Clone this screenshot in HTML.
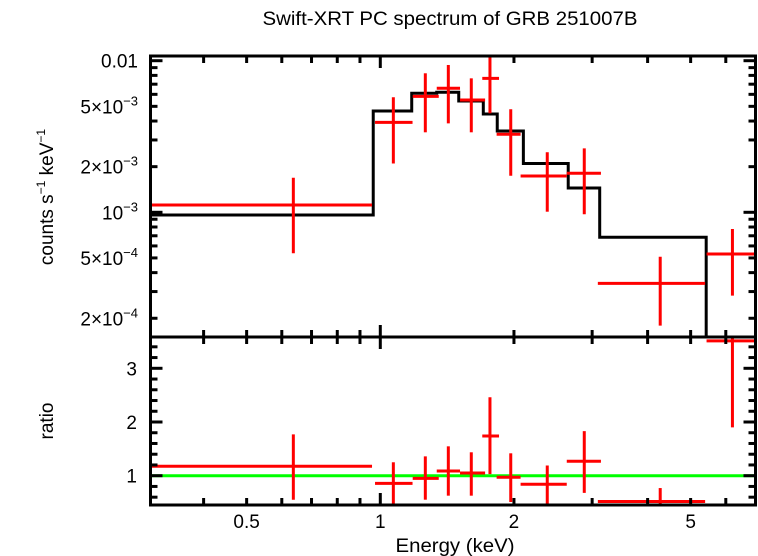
<!DOCTYPE html>
<html><head><meta charset="utf-8"><style>
html,body{margin:0;padding:0;background:#fff;}
svg{display:block;font-family:"Liberation Sans",Arial,sans-serif;}
</style></head><body>
<svg id="chart" width="758" height="556" viewBox="0 0 758 556" xmlns="http://www.w3.org/2000/svg">
<text x="450" y="25" font-size="19" text-anchor="middle" textLength="375" lengthAdjust="spacingAndGlyphs">Swift-XRT PC spectrum of GRB 251007B</text>
<text transform="translate(53,197) rotate(-90)" font-size="19" text-anchor="middle">counts s<tspan font-size="12" dy="-8">−1</tspan><tspan dy="8"> keV</tspan><tspan font-size="12" dy="-8">−1</tspan></text>
<text transform="translate(53,421) rotate(-90)" font-size="19" text-anchor="middle">ratio</text>
<text x="455" y="552" font-size="19" text-anchor="middle" textLength="119" lengthAdjust="spacingAndGlyphs">Energy (keV)</text>
<g id="g"></g>
</svg>
<script>
// ---- data ----
const dataElo = [0.3, 0.973, 1.183, 1.340, 1.512, 1.697, 1.828, 2.07, 2.63, 3.09, 5.43];
const dataEhi = [0.958, 1.182, 1.354, 1.512, 1.722, 1.851, 2.07, 2.63, 3.14, 5.39, 7.2];
const dataE   = [0.637, 1.070, 1.263, 1.423, 1.603, 1.766, 1.967, 2.377, 2.88, 4.27, 6.21];
const dataY   = [1.117e-3, 3.92e-3, 5.82e-3, 6.58e-3, 5.51e-3, 7.65e-3, 3.27e-3, 1.736e-3, 1.81e-3, 3.40e-4, 5.31e-4];
const dataYhi = [1.69e-3, 5.74e-3, 8.26e-3, 9.37e-3, 7.65e-3, 0.0115, 4.78e-3, 2.49e-3, 2.64e-3, 5.09e-4, 7.76e-4];
const dataYlo = [5.37e-4, 2.10e-3, 3.37e-3, 3.86e-3, 3.37e-3, 4.50e-3, 1.743e-3, 1.009e-3, 9.7e-4, 1.79e-4, 2.82e-4];
const modelEdges = [0.3, 0.964, 1.177, 1.340, 1.502, 1.706, 1.834, 2.10, 2.65, 3.12, 5.42, 7.2];
const modelY = [9.60e-4, 4.66e-3, 6.10e-3, 6.19e-3, 5.42e-3, 4.45e-3, 3.44e-3, 2.10e-3, 1.446e-3, 6.84e-4, 1.0e-4];
const ratioY   = [1.175, 0.858, 0.95, 1.088, 1.05, 1.74, 0.97, 0.84, 1.27, 0.52, 3.51];
const ratioYhi = [1.77, 1.25, 1.36, 1.547, 1.436, 2.46, 1.417, 1.19, 1.83, 0.77, 3.7];
const ratioYlo = [0.553, 0.467, 0.553, 0.628, 0.628, 1.03, 0.51, 0.47, 0.68, 0.3, 1.90];
const xTickLabels = [0.5, 1, 2, 5];
const yTopLabels = [[0.01,"0.01"],[5e-3,"5×10","−3"],[2e-3,"2×10","−3"],[1e-3,"10","−3"],[5e-4,"5×10","−4"],[2e-4,"2×10","−4"]];
const ratioLabels = [1, 2, 3];

// ---- geometry ----
const L=150.5, R=755.5, T1=56, B1=337, T2=337, B2=505;
const X = e => 380.3 + 444*Math.log10(e);
const Y1 = v => 212.3 - 151.6*(Math.log10(v)+3);
const Y2 = r => 475.7 - 53.7*(r-1);
const ns="http://www.w3.org/2000/svg", g=document.getElementById('g');
function el(tag, at, parent){const e=document.createElementNS(ns,tag);for(const k in at)e.setAttribute(k,at[k]);(parent||g).appendChild(e);return e;}
const clipD=el('defs',{});
const c1=el('clipPath',{id:'c1'},clipD);el('rect',{x:L,y:T1,width:R-L,height:B1-T1},c1);
const c2=el('clipPath',{id:'c2'},clipD);el('rect',{x:L,y:T2,width:R-L,height:B2-T2},c2);
const p1=el('g',{'clip-path':'url(#c1)'}), p2=el('g',{'clip-path':'url(#c2)'});

let d='';
for(let i=0;i<modelY.length;i++){
  const x0=X(modelEdges[i]),x1=X(modelEdges[i+1]),y=Y1(modelY[i]);
  d+=(i===0?'M':'L')+x0+','+y+' L'+x1+','+y+' ';
}
const m=el('path',{d:d,fill:'none',stroke:'#000','stroke-width':3},p1);



for(let i=0;i<dataY.length;i++){
  const gp=el('g',{stroke:'#f00','stroke-width':3},p1);
  
  
  el('line',{x1:X(dataElo[i]),x2:X(dataEhi[i]),y1:Y1(dataY[i]),y2:Y1(dataY[i])},gp);
  el('line',{x1:X(dataE[i]),x2:X(dataE[i]),y1:Y1(dataYhi[i]),y2:Y1(dataYlo[i])},gp);
}
const gl=el('line',{x1:L,x2:R,y1:Y2(1),y2:Y2(1),stroke:'#0f0','stroke-width':3},p2);


for(let i=0;i<ratioY.length;i++){
  const gp=el('g',{stroke:'#f00','stroke-width':3},p2);
  
  
  el('line',{x1:X(dataElo[i]),x2:X(dataEhi[i]),y1:Y2(ratioY[i]),y2:Y2(ratioY[i])},gp);
  el('line',{x1:X(dataE[i]),x2:X(dataE[i]),y1:Y2(ratioYhi[i]),y2:Y2(ratioYlo[i])},gp);
}

const ax=el('g',{stroke:'#000','stroke-width':3,fill:'none'});


el('rect',{x:L,y:T1,width:R-L,height:B1-T1},ax);
el('rect',{x:L,y:T2,width:R-L,height:B2-T2},ax);
const xt=[0.4,0.5,0.6,0.7,0.8,0.9,1,2,3,4,5,6,7];
for(const e of xt){
  const x=X(e); if(x<L+2||x>R-2) continue;
  const len=(e===1)?12:7;
  for(const [top,bot] of [[T1,B1],[T2,B2]]){
    el('line',{x1:x,x2:x,y1:top,y2:top+len},ax);
    el('line',{x1:x,x2:x,y1:bot,y2:bot-len},ax);
  }
}
for(let dec=-4;dec<=-2;dec++){for(let k=1;k<=9;k++){
  const v=k*Math.pow(10,dec),y=Y1(v); if(y<T1+1||y>B1-1) continue;
  const len=(k===1)?12:7;
  el('line',{x1:L,x2:L+len,y1:y,y2:y},ax);el('line',{x1:R,x2:R-len,y1:y,y2:y},ax);
}}
for(let r=0.6;r<3.6;r+=0.2){
  const rr=Math.round(r*10)/10,y=Y2(rr);
  const len=(Math.abs(rr-Math.round(rr))<1e-6)?12:7;
  el('line',{x1:L,x2:L+len,y1:y,y2:y},ax);el('line',{x1:R,x2:R-len,y1:y,y2:y},ax);
}
for(const v of xTickLabels){
  const t=el('text',{x:X(v),y:528,'font-size':19,'text-anchor':'middle'});t.textContent=String(v);
  
  
}
for(const lb of yTopLabels){
  const t=el('text',{x:138,y:Y1(lb[0])+7,'font-size':19,'text-anchor':'end'});
  
  
  if(lb.length===2){t.textContent=lb[1];}
  else{const a=el('tspan',{},t);a.textContent=lb[1];const b=el('tspan',{'font-size':13,dy:-8},t);b.textContent=lb[2];}
}
for(const r of ratioLabels){
  const t=el('text',{x:137,y:Y2(r)+7,'font-size':19,'text-anchor':'end'});t.textContent=String(r);
  
  
}
</script>
</body></html>
